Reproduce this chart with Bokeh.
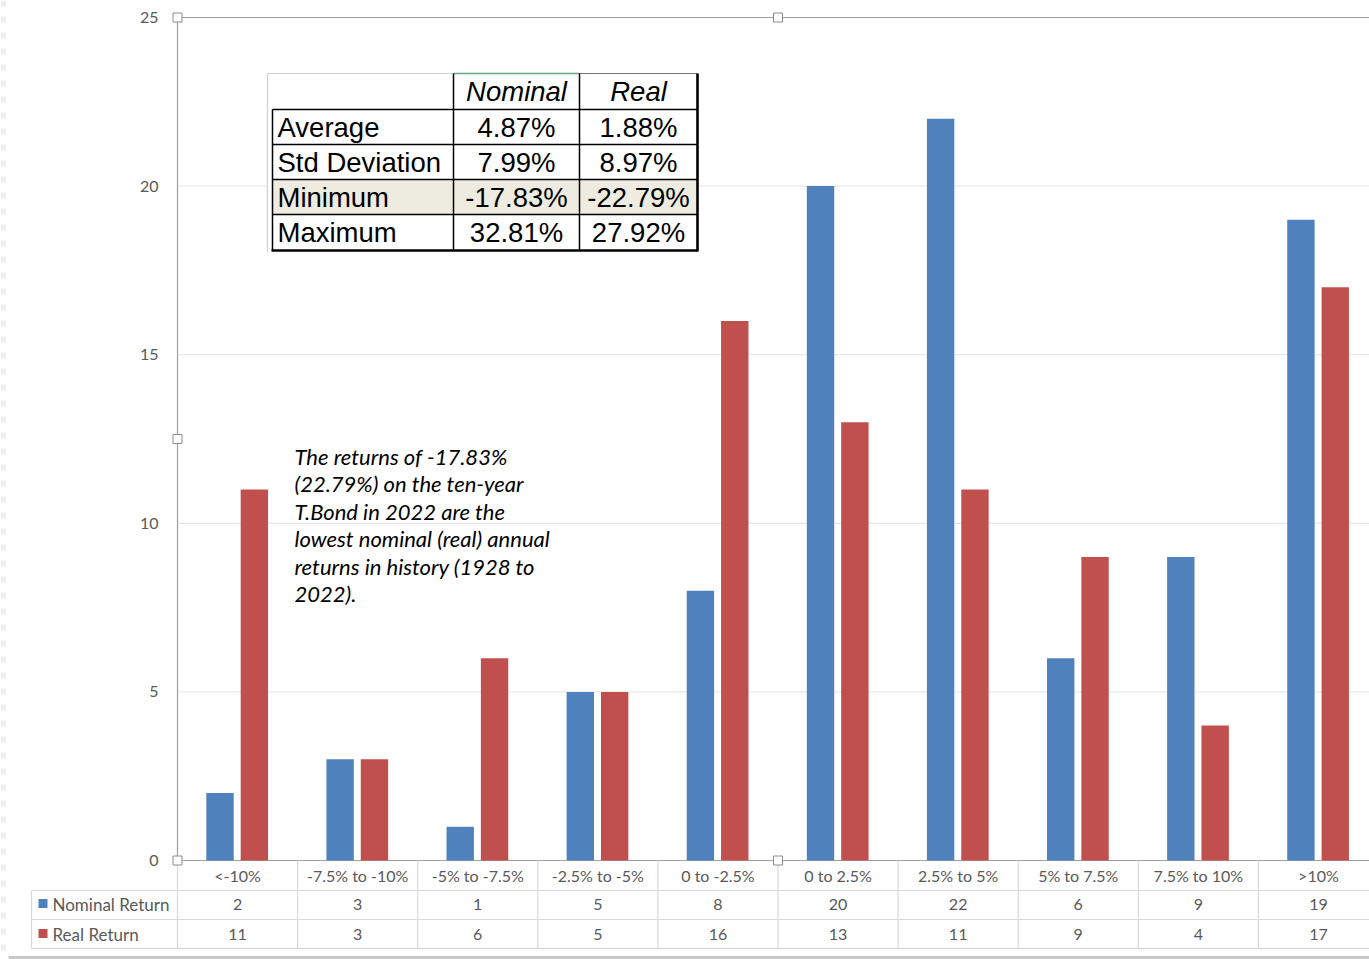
from bokeh.plotting import figure
from bokeh.models import Range1d
from bokeh.core.properties import value
from bokeh.embed import file_html
from bokeh.resources import INLINE

# ---------------- data ----------------
categories = ["<-10%", "-7.5% to -10%", "-5% to -7.5%", "-2.5% to -5%", "0 to -2.5%",
              "0 to 2.5%", "2.5% to 5%", "5% to 7.5%", "7.5% to 10%", ">10%"]
nominal = [2, 3, 1, 5, 8, 20, 22, 6, 9, 19]
real = [11, 3, 6, 5, 16, 13, 11, 9, 4, 17]
series_names = ["Nominal Return", "Real Return"]
y_ticks = [0, 5, 10, 15, 20, 25]
y_tick_labels = ["0", "5", "10", "15", "20", "25"]

stat_header = ["Nominal", "Real"]
stat_rows = ["Average", "Std Deviation", "Minimum", "Maximum"]
stat_nominal = ["4.87%", "7.99%", "-17.83%", "32.81%"]
stat_real = ["1.88%", "8.97%", "-22.79%", "27.92%"]

note_lines = ["The returns of -17.83%",
              "(22.79%) on the ten-year",
              "T.Bond in 2022 are the",
              "lowest nominal (real) annual",
              "returns in history (1928 to",
              "2022)."]

# ---------------- layout ----------------
W_PX, H_PX = 1369, 959
LEFT = 177.0      # px of category axis start
CAT_W = 120.1     # px per category
ZERO_Y = 860.0    # px of value 0
UNIT_Y = 33.72    # px per value unit

def xd(px):
    return (px - LEFT) / CAT_W

def yd(py):
    return (ZERO_Y - py) / UNIT_Y

BLUE = "#4F81BD"
RED = "#C0504D"
GRAY_TXT = "#595959"
LIGHT = "#D9D9D9"
AXIS = "#A0A0A0"
SMALL_FONT = value("Lato")

p = figure(width=W_PX, height=H_PX, x_range=Range1d(xd(0), xd(W_PX)),
           y_range=Range1d(yd(H_PX), yd(0)), min_border=0,
           toolbar_location=None, output_backend="svg")
p.axis.visible = False
p.grid.visible = False
p.outline_line_color = None
p.background_fill_color = "white"

n = len(categories)
x_end = xd(W_PX)

# faint sheet edge at left
p.segment(x0=[xd(3)], x1=[xd(3)], y0=[yd(0)], y1=[yd(950)], line_color="#EEEEEE",
          line_width=5, line_dash="6 10")

# gridlines
grid_vals = [v for v in y_ticks if 0 < v < max(y_ticks)]
p.segment(x0=[0] * len(grid_vals), x1=[x_end] * len(grid_vals), y0=grid_vals, y1=grid_vals,
          line_color="#E3E3E3", line_width=1)

# plot-area borders
top = max(y_ticks)
p.segment(x0=[0, 0, 0], x1=[x_end, x_end, 0], y0=[top, 0, 0], y1=[top, 0, top],
          line_color=AXIS, line_width=1.2)

# bars
bw = 0.228
p.vbar(x=[i + 0.5 - 0.146 for i in range(n)], top=nominal, bottom=0, width=bw,
       fill_color=BLUE, line_color=None)
p.vbar(x=[i + 0.5 + 0.14 for i in range(n)], top=real, bottom=0, width=bw,
       fill_color=RED, line_color=None)

# y tick labels
p.text(x=[xd(158)] * len(y_ticks), y=y_ticks, text=y_tick_labels,
       text_align="right", text_baseline="middle", text_color=GRAY_TXT,
       text_font=SMALL_FONT, text_font_size="16px")

# ---- data table under the chart ----
r0, r1, r2, r3 = 860, 890, 919, 948
p.segment(x0=[xd(31), xd(31)], x1=[x_end, x_end], y0=[yd(r1), yd(r2)], y1=[yd(r1), yd(r2)],
          line_color=LIGHT, line_width=1.2)
p.segment(x0=[xd(31)], x1=[x_end], y0=[yd(r3)], y1=[yd(r3)], line_color=LIGHT, line_width=1.5)
vx = list(range(0, n))
p.segment(x0=vx, x1=vx, y0=[yd(r0)] * n, y1=[yd(r3)] * n, line_color=LIGHT, line_width=1.2)
p.segment(x0=[xd(31)], x1=[xd(31)], y0=[yd(r1)], y1=[yd(r3)], line_color=LIGHT, line_width=1.2)

centers = [i + 0.5 for i in range(n)]
p.text(x=centers, y=[yd(875)] * n, text=categories, text_align="center", text_baseline="middle",
       text_color=GRAY_TXT, text_font=SMALL_FONT, text_font_size="16px")
p.text(x=centers, y=[yd(904)] * n, text=[str(v) for v in nominal], text_align="center",
       text_baseline="middle", text_color=GRAY_TXT, text_font=SMALL_FONT, text_font_size="16px")
p.text(x=centers, y=[yd(934)] * n, text=[str(v) for v in real], text_align="center",
       text_baseline="middle", text_color=GRAY_TXT, text_font=SMALL_FONT, text_font_size="16px")

p.rect(x=[xd(42.5), xd(42.5)], y=[yd(903), yd(933)], width=9, height=9,
       width_units="screen", height_units="screen", fill_color=[BLUE, RED], line_color=None)
p.text(x=[xd(52), xd(52)], y=[yd(904), yd(934)], text=series_names, text_align="left",
       text_baseline="middle", text_color=GRAY_TXT, text_font=SMALL_FONT, text_font_size="17px")

# sheet edge at bottom
p.segment(x0=[xd(8)], x1=[x_end], y0=[yd(957)], y1=[yd(957)], line_color="#C8C8C8", line_width=3)

# selection handles of the plot area
hx = [0, n / 2, 0, 0, n / 2]
hy = [top, top, top / 2, 0, 0]
p.scatter(x=hx, y=hy, marker="square", size=9, fill_color="white", line_color="#8C8C8C",
          line_width=1)

# ---- statistics table ----
tl, c1, c2, tr = 272, 453, 579, 697
rows_px = [73, 109, 144, 179, 214, 250]
p.quad(left=[xd(267)], right=[xd(tr)], top=[yd(rows_px[0])], bottom=[yd(252)],
       fill_color="white", line_color=None)
p.quad(left=[xd(tl)], right=[xd(tr)], top=[yd(rows_px[3])], bottom=[yd(rows_px[4])],
       fill_color="#EEECE1", line_color=None)
p.segment(x0=[xd(267), xd(267)], x1=[xd(c1), xd(267)], y0=[yd(73), yd(73)], y1=[yd(73), yd(252)],
          line_color="#D0D0D0", line_width=1.2)
p.segment(x0=[xd(c1)], x1=[xd(c2)], y0=[yd(73)], y1=[yd(73)], line_color="#6AA57E", line_width=1.5)
p.segment(x0=[xd(c2)], x1=[xd(tr)], y0=[yd(73)], y1=[yd(73)], line_color="#777777", line_width=1.2)
hl = rows_px[1:5]
p.segment(x0=[xd(tl)] * len(hl), x1=[xd(tr)] * len(hl), y0=[yd(v) for v in hl],
          y1=[yd(v) for v in hl], line_color="black", line_width=1.5)
p.segment(x0=[xd(tl), xd(c1), xd(c2)], x1=[xd(tl), xd(c1), xd(c2)],
          y0=[yd(109), yd(73), yd(73)], y1=[yd(250)] * 3, line_color="black", line_width=1.5)
p.segment(x0=[xd(tl - 1), xd(tr)], x1=[xd(tr), xd(tr)], y0=[yd(250), yd(73)], y1=[yd(250), yd(251)],
          line_color="black", line_width=2.6)

TABLE_FONT = value("Liberation Sans")
mids = [(rows_px[i] + rows_px[i + 1]) / 2 for i in range(5)]
p.text(x=[xd(516), xd(638)], y=[yd(mids[0])] * 2, text=stat_header, text_align="center",
       text_baseline="middle", text_color="black", text_font=TABLE_FONT,
       text_font_size="27.5px", text_font_style="italic")
p.text(x=[xd(277)] * 4, y=[yd(m) for m in mids[1:]], text=stat_rows, text_align="left",
       text_baseline="middle", text_color="black", text_font=TABLE_FONT,
       text_font_size="27.5px")
p.text(x=[xd(516)] * 4, y=[yd(m) for m in mids[1:]], text=stat_nominal, text_align="center",
       text_baseline="middle", text_color="black", text_font=TABLE_FONT,
       text_font_size="27.5px")
p.text(x=[xd(638)] * 4, y=[yd(m) for m in mids[1:]], text=stat_real, text_align="center",
       text_baseline="middle", text_color="black", text_font=TABLE_FONT,
       text_font_size="27.5px")

# ---- annotation ----
note_y0, note_dy = 456, 27.4
p.text(x=[xd(294)] * len(note_lines), y=[yd(note_y0 + i * note_dy) for i in range(len(note_lines))],
       text=note_lines, text_align="left", text_baseline="middle", text_color="black",
       text_font=value("Lato"), text_font_size="22px", text_font_style="italic")

open("out.html", "w").write(file_html(p, INLINE))
